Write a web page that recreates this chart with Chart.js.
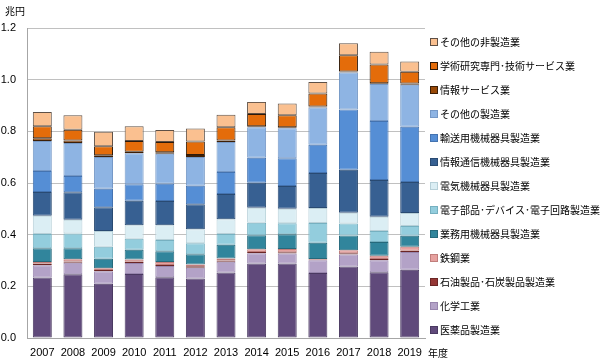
<!DOCTYPE html>
<html>
<head>
<meta charset="utf-8">
<script src="https://cdn.jsdelivr.net/npm/chart.js@4"></script>
<style>
  html, body { margin: 0; padding: 0; background: #fff; }
  #wrap { width: 600px; height: 362px; }
</style>
</head>
<body>
<div id="wrap"><canvas id="chart"></canvas></div>
<script>
// 年度
var years = ["2007","2008","2009","2010","2011","2012","2013","2014","2015","2016","2017","2018","2019"];

// 兆円
var iyakuhin   = [0.234,0.247,0.210,0.248,0.235,0.230,0.254,0.288,0.288,0.252,0.277,0.255,0.264];
var kagaku     = [0.048,0.044,0.048,0.042,0.044,0.042,0.041,0.040,0.039,0.049,0.046,0.046,0.069];
var sekiyu     = [0.005,0.005,0.005,0.005,0.004,0.006,0.005,0.005,0.005,0.002,0.005,0.005,0.005];
var tekko      = [0.007,0.009,0.007,0.009,0.011,0.007,0.008,0.011,0.013,0.003,0.012,0.012,0.015];
var gyomu      = [0.053,0.042,0.037,0.038,0.042,0.039,0.053,0.054,0.057,0.063,0.057,0.054,0.043];
var denshi     = [0.056,0.058,0.046,0.042,0.043,0.043,0.042,0.048,0.042,0.076,0.046,0.042,0.038];
var denki      = [0.070,0.053,0.061,0.052,0.057,0.054,0.057,0.058,0.056,0.058,0.042,0.055,0.050];
var tsushin    = [0.092,0.106,0.092,0.095,0.094,0.097,0.097,0.097,0.088,0.136,0.166,0.143,0.120];
var yuso       = [0.081,0.063,0.072,0.064,0.067,0.071,0.086,0.097,0.108,0.109,0.234,0.228,0.214];
var sonotaSeizo = [0.117,0.128,0.123,0.120,0.116,0.112,0.116,0.118,0.116,0.144,0.143,0.143,0.162];
var johoService = [0.010,0.010,0.006,0.006,0.006,0.007,0.006,0.004,0.004,0.004,0.004,0.003,0.005];
var gakujutsu  = [0.047,0.041,0.035,0.042,0.040,0.053,0.051,0.047,0.046,0.050,0.063,0.073,0.046];
var sonotaHi   = [0.055,0.056,0.056,0.057,0.046,0.050,0.048,0.047,0.046,0.045,0.046,0.049,0.039];

var yTicks = [0, 0.2, 0.4, 0.6, 0.8, 1.0, 1.2];

var jpFont = "'Noto Sans CJK JP', 'Noto Sans', sans-serif";
var numFont = "'Liberation Sans Narrow', 'Liberation Sans', sans-serif";

function series(label, data, fill, edge) {
    return {
        label: label,
        data: data,
        backgroundColor: fill,
        borderColor: edge,
        borderWidth: 1,
        borderSkipped: false
    };
}

// legend on the right, drawn top = last dataset
const sideLegend = {
    id: "sideLegend",
    afterDraw(chart) {
        const ctx = chart.ctx;
        const sets = chart.data.datasets;
        const area = chart.chartArea;
        const x0 = area.right + 6;
        ctx.save();
        ctx.font = "10px " + jpFont;
        ctx.textBaseline = "middle";
        ctx.textAlign = "left";
        for (let i = 0; i < sets.length; i++) {
            const ds = sets[sets.length - 1 - i];
            const y = 42 + i * 24;
            ctx.fillStyle = ds.backgroundColor;
            ctx.fillRect(x0, y - 3, 6, 6);
            ctx.strokeStyle = ds.borderColor;
            ctx.lineWidth = 1;
            ctx.strokeRect(x0 - 0.5, y - 3.5, 7, 7);
            ctx.fillStyle = "#000";
            ctx.fillText(ds.label, x0 + 9, y);
        }
        ctx.fillText("兆円", 5, 11);
        ctx.fillText("年度", area.right + 3, area.bottom + 15);
        ctx.restore();
    }
};

var ctx = document.getElementById("chart").getContext("2d");

var chart = new Chart(ctx, {
    type: "bar",
    data: {
        labels: years,
        datasets: [
            series("医薬品製造業", iyakuhin, "#604a7b", "#4a3961"),
            series("化学工業", kagaku, "#b3a2c7", "#9886ae"),
            series("石油製品･石炭製品製造業", sekiyu, "#953735", "#6b2625"),
            series("鉄鋼業", tekko, "#e6a19f", "#c07e7c"),
            series("業務用機械器具製造業", gyomu, "#31859c", "#25697b"),
            series("電子部品･デバイス･電子回路製造業", denshi, "#93cddd", "#76b0c0"),
            series("電気機械器具製造業", denki, "#dbeef4", "#b7d0d8"),
            series("情報通信機械器具製造業", tsushin, "#376092", "#294a72"),
            series("輸送用機械器具製造業", yuso, "#558ed5", "#4473b0"),
            series("その他の製造業", sonotaSeizo, "#8eb4e3", "#7598c6"),
            series("情報サービス業", johoService, "#984807", "#3d1f06"),
            series("学術研究専門･技術サービス業", gakujutsu, "#e46c0a", "#2e1a0a"),
            series("その他の非製造業", sonotaHi, "#fac090", "#5e5046")
        ]
    },
    options: {
        responsive: true,
        maintainAspectRatio: false,
        animation: false,
        layout: {
            padding: { left: 0, right: 175, top: 28, bottom: 0 }
        },
        datasets: {
            bar: { categoryPercentage: 1.0, barPercentage: 0.62 }
        },
        scales: {
            x: {
                stacked: true,
                afterFit: function (axis) { axis.height = 24; },
                grid: { display: false, drawTicks: false },
                border: { display: true, color: "#a6a6a6" },
                ticks: {
                    color: "#000",
                    padding: 8,
                    maxRotation: 0,
                    font: { family: numFont, size: 11 }
                }
            },
            y: {
                stacked: true,
                min: 0,
                max: 1.2,
                afterFit: function (axis) { axis.width = 27; },
                afterBuildTicks: function (axis) {
                    axis.ticks = yTicks.map(function (v) { return { value: v }; });
                },
                grid: { color: "#c0c0c0", drawTicks: false },
                border: { display: true, color: "#a6a6a6" },
                ticks: {
                    color: "#000",
                    padding: 11,
                    font: { family: numFont, size: 11 },
                    callback: function (v) { return Number(v).toFixed(1); }
                }
            }
        },
        plugins: {
            legend: { display: false },
            tooltip: { enabled: false }
        }
    },
    plugins: [sideLegend]
});
</script>
</body>
</html>
